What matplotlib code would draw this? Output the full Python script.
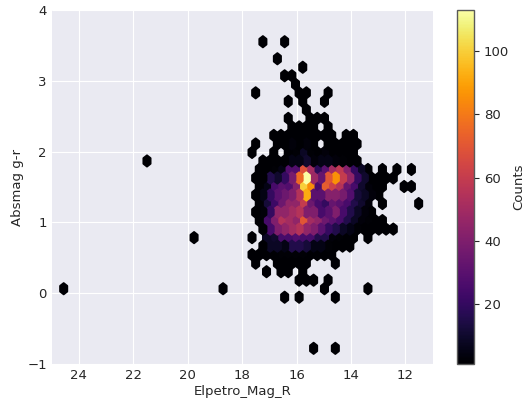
import numpy as np
import matplotlib
matplotlib.use('Agg')
import matplotlib.pyplot as plt

# hexbin counts, one entry per run of bins along a row
# bins in a row sit two half steps apart, 0 means an empty bin
row_gr = [3.552, 3.311, 3.191, 3.071, 2.951, 2.830, 2.710, 2.590, 2.469, 2.349,
          2.229, 2.108, 1.988, 1.868, 1.747, 1.627, 1.507, 1.387, 1.266, 1.146,
          1.026, 0.905, 0.785, 0.665, 0.544, 0.424, 0.304, 0.184, 0.063, -0.057,
          -0.779, 1.868, 0.785, 0.063, 0.063]
row_first_bin = [55, 59, 66, 61, 64, 53, 62, 67, 62, 63,
                 58, 53, 52, 55, 54, 53, 54, 53, 54, 53,
                 54, 55, 52, 55, 52, 53, 56, 65, 72, 61,
                 69, 23, 36, 0, 44]
row_counts = [
    [1, 0, 0, 1],
    [1],
    [1],
    [1, 1],
    [1],
    [1, 0, 0, 0, 0, 0, 1, 1, 0, 0, 1],
    [1, 0, 1, 0, 0, 1],
    [1],
    [1, 0, 0, 1, 1, 1],
    [1, 1, 1, 1, 0, 1],
    [1, 1, 1, 1, 1, 1, 1, 1, 1, 0, 1, 1],
    [1, 0, 0, 1, 1, 3, 1, 3, 1, 0, 1, 1, 1, 1, 1],
    [1, 0, 0, 1, 0, 1, 2, 8, 2, 1, 3, 1, 1, 1, 1],
    [1, 1, 1, 1, 5, 5, 10, 3, 5, 5, 3, 2, 1, 1],
    [1, 1, 2, 5, 28, 28, 68, 50, 18, 30, 50, 58, 42, 20, 8, 1, 0, 1, 0, 1, 0, 1],
    [1, 1, 15, 10, 20, 38, 76, 113, 48, 33, 70, 86, 60, 45, 20, 10, 1, 1, 1, 1],
    [1, 5, 25, 30, 28, 42, 100, 85, 25, 72, 62, 55, 33, 25, 10, 3, 1, 1, 0, 0, 1, 1],
    [1, 5, 20, 30, 35, 40, 55, 92, 30, 30, 42, 42, 38, 28, 12, 8, 3, 1],
    [2, 12, 22, 35, 45, 45, 60, 35, 25, 20, 33, 30, 25, 15, 10, 3, 0, 1, 0, 0, 0, 0, 1],
    [1, 3, 20, 45, 45, 50, 55, 40, 40, 25, 30, 40, 25, 15, 8, 3, 1],
    [2, 25, 40, 55, 50, 45, 70, 50, 45, 35, 30, 25, 15, 8, 3, 2, 1, 1],
    [2, 25, 40, 45, 50, 55, 45, 40, 30, 20, 15, 8, 5, 2, 1, 1, 1, 1, 1],
    [1, 0, 8, 10, 25, 25, 28, 25, 25, 15, 15, 3, 2, 1, 1, 0, 1],
    [1, 8, 8, 5, 15, 15, 12, 5, 5, 2, 1, 1, 1],
    [1, 1, 1, 1, 2, 2, 2, 2, 1, 1, 1, 1],
    [1, 0, 0, 1, 1, 1, 1, 1, 0, 0, 0, 1],
    [1, 0, 1, 1, 0, 1],
    [1, 1, 1, 0, 1],
    [1, 0, 0, 0, 0, 0, 1],
    [1, 0, 1, 0, 0, 0, 0, 1],
    [1, 0, 0, 1],
    [1],
    [1],
    [1],
    [1],
]

mag_first = 24.56   # centre of bin 0
mag_half = 0.1331   # half a hexagon width
gr_half = 0.1203    # half a row step

mag, gr, counts = [], [], []
for y, first, vals in zip(row_gr, row_first_bin, row_counts):
    for i, c in enumerate(vals):
        if c > 0:
            mag.append(mag_first - mag_half * (first + 2 * i))
            gr.append(y)
            counts.append(c)

plt.style.use('seaborn-v0_8-darkgrid')
plt.rcParams['font.family'] = 'DejaVu Sans'

fig = plt.figure(figsize=(5.26, 4.04), dpi=100)
ax = fig.add_axes([51.7 / 526, 40 / 404, 381 / 526, 354 / 404])
cax = fig.add_axes([456.7 / 526, 40 / 404, 17.6 / 526, 354 / 404])

# grid extent picked so that lattice points land on the bin centres
xmin = mag_first - mag_half * 100
xmax = mag_first + mag_half * 2
ymin = 3.552 - gr_half * 37
ymax = 3.552 + gr_half
hb = ax.hexbin(mag, gr, C=counts, gridsize=(51, 19), extent=(xmin, xmax, ymin, ymax),
               reduce_C_function=np.sum, mincnt=1, cmap='inferno', vmin=1, vmax=113,
               linewidths=1.3)

ax.set_xlim(25, 11)
ax.set_ylim(-1, 4)
ax.set_xlabel('Elpetro_Mag_R', fontsize=9.5, color='.15', labelpad=2.5)
ax.set_ylabel('Absmag g-r', fontsize=9.5, color='.15', labelpad=2)
ax.tick_params(labelsize=9.5, labelcolor='.15')

cb = fig.colorbar(hb, cax=cax)
cb.set_label('Counts', fontsize=9.5, color='.15', labelpad=2)
cb.ax.grid(False)
cb.ax.yaxis.set_ticks_position('right')
cb.ax.tick_params(axis='y', labelsize=9.5, labelcolor='.15', length=3.5, width=0.8, color='.15', right=True)
cb.outline.set_visible(True)
cb.outline.set_edgecolor('.35')
cb.outline.set_linewidth(1.0)

fig.savefig('out.png', dpi=100)
